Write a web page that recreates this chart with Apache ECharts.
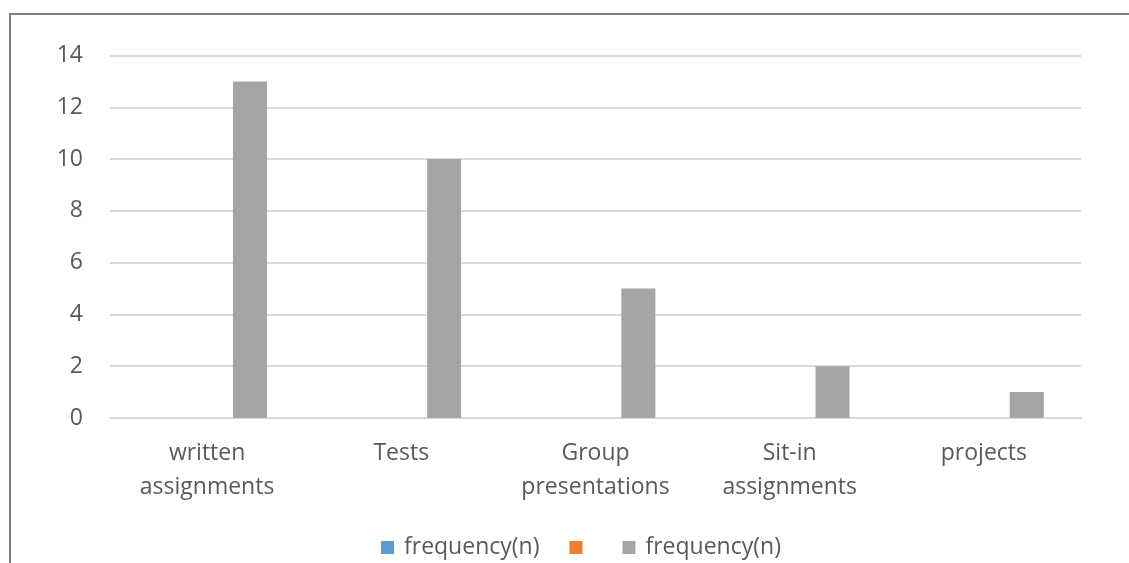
<!DOCTYPE html>
<html>
<head>
<meta charset="utf-8">
<script src="https://cdn.jsdelivr.net/npm/echarts@6/dist/echarts.min.js"></script>
<style>
html,body{margin:0;padding:0;background:#fff;}
#chart{position:absolute;left:0;top:0;width:1129px;height:563px;}
#frame{position:absolute;left:9px;top:13px;width:1200px;height:600px;border-top:2px solid #7f7f7f;border-left:2px solid #7f7f7f;pointer-events:none;}
</style>
</head>
<body>
<div id="chart"></div>
<div id="frame"></div>
<script>
const categories = ['written\nassignments', 'Tests', 'Group\npresentations', 'Sit-in\nassignments', 'projects'];
const series1Name = 'frequency(n)';
const series1Values = [null, null, null, null, null];
const series2Name = '\u200b';
const series2Values = [null, null, null, null, null];
const series3Name = 'frequency(n) ';
const series3Values = [13, 10, 5, 2, 1];
const yTicks = {min: 0, max: 14, interval: 2};

const FONT = '"Open Sans", sans-serif';
const TXT = '#595959';

const chart = echarts.init(document.getElementById('chart'), null, {renderer: 'canvas'});
chart.setOption({
  animation: false,
  grid: {left: 110, right: 48, top: 55.5, bottom: 145, containLabel: false},
  legend: {
    top: 536,
    left: 381,
    padding: 0,
    itemWidth: 13,
    itemHeight: 13,
    itemGap: 30,
    icon: 'rect',
    textStyle: {color: TXT, fontSize: 23, fontFamily: FONT, padding: [0, 0, 0, 5]},
    data: [series1Name, series2Name, series3Name]
  },
  xAxis: {
    type: 'category',
    data: categories,
    axisLine: {show: true, lineStyle: {color: '#d9d9d9', width: 2}},
    axisTick: {show: false},
    axisLabel: {interval: 0, color: TXT, fontSize: 23, fontFamily: FONT, lineHeight: 34, margin: 18}
  },
  yAxis: {
    type: 'value',
    min: yTicks.min, max: yTicks.max, interval: yTicks.interval,
    axisLine: {show: false},
    axisTick: {show: false},
    splitLine: {lineStyle: {color: '#d9d9d9', width: 2}},
    axisLabel: {color: TXT, fontSize: 23, fontFamily: FONT, margin: 27}
  },
  series: [
    {name: series1Name, type: 'bar', data: series1Values, barWidth: 34, barGap: '26%', itemStyle: {color: '#5b9bd5'}},
    {name: series2Name, type: 'bar', data: series2Values, barWidth: 34, barGap: '26%', itemStyle: {color: '#ed7d31'}},
    {name: series3Name, type: 'bar', data: series3Values, barWidth: 34, barGap: '26%', itemStyle: {color: '#a5a5a5'}}
  ]
});
</script>
</body>
</html>
